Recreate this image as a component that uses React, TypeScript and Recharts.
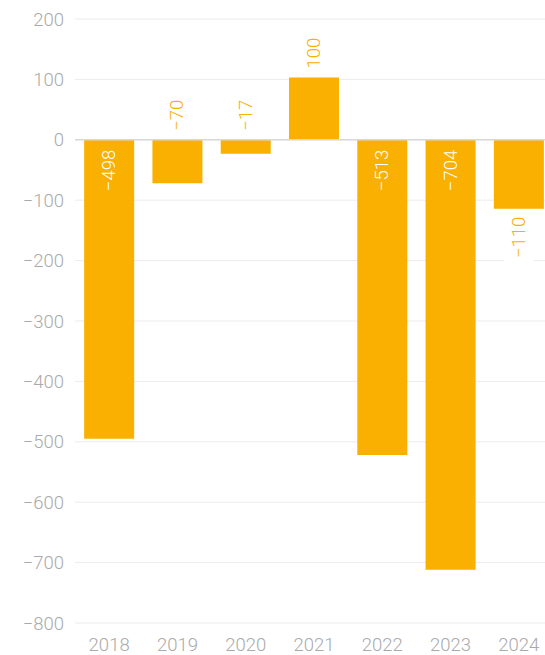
import { BarChart, Bar, XAxis, YAxis, CartesianGrid, ReferenceLine, LabelList } from "recharts";

const years = ["2018", "2019", "2020", "2021", "2022", "2023", "2024"];
const values = [-495, -72, -23, 103, -522, -712, -114];
const valueLabels = ["−498", "−70", "−17", "100", "−513", "−704", "−110"];
const yTicks = [200, 100, 0, -100, -200, -300, -400, -500, -600, -700, -800];

const AMBER = "#f9b000";
const GREY = "#aaaaaa";
const FONT = "Roboto, sans-serif";

const data = years.map((year, i) => ({ year, value: values[i], label: valueLabels[i] }));

const fmt = (v: number) => (v < 0 ? `−${Math.abs(v)}` : `${v}`);

function BarLabel(props: any) {
  const { x, y, width, height, index } = props;
  const v = values[index];
  const text = valueLabels[index];
  const top = Math.min(y, y + height);
  const bottom = Math.max(y, y + height);
  const len = bottom - top;
  const cx = x + width / 2;
  const zero = v < 0 ? top : bottom;
  const textLen = text.length * 10.5;
  const common = { fontFamily: FONT, fontSize: 18.5, fontWeight: 300, dominantBaseline: "central" as const };

  if (len >= 100) {
    const ty = zero + 10;
    return (
      <text x={cx} y={ty} transform={`rotate(-90, ${cx}, ${ty})`} textAnchor="end" fill="#fff" {...common}>
        {text}
      </text>
    );
  }
  if (v >= 0 || len < 60) {
    const ty = (v >= 0 ? top : zero) - 9;
    return (
      <text x={cx} y={ty} transform={`rotate(-90, ${cx}, ${ty})`} textAnchor="start" fill={AMBER} {...common}>
        {text}
      </text>
    );
  }
  const ty = bottom + 8;
  return (
    <g>
      <rect x={cx - 15} y={ty - 5} width={30} height={textLen + 10} fill="#fff" />
      <text x={cx} y={ty} transform={`rotate(-90, ${cx}, ${ty})`} textAnchor="end" fill={AMBER} {...common}>
        {text}
      </text>
    </g>
  );
}

export default function App() {
  return (
    <div style={{ position: "absolute", left: 0, top: 0, width: 545, height: 655, overflow: "hidden", background: "#fff" }}>
      <BarChart
        width={554}
        height={655}
        data={data}
        margin={{ top: 19, right: 1, bottom: 2, left: 0 }}
        barCategoryGap="13.4%"
      >
        <CartesianGrid vertical={false} stroke="#ececec" />
        <XAxis
          dataKey="year"
          axisLine={false}
          tickLine={false}
          tickMargin={9}
          height={30}
          tick={{ fill: GREY, fontSize: 18.5, fontFamily: FONT, fontWeight: 300 }}
        />
        <YAxis
          width={75}
          domain={[-800, 200]}
          ticks={yTicks}
          axisLine={false}
          tickLine={false}
          tickFormatter={fmt}
          tick={{ fill: GREY, fontSize: 18.5, fontFamily: FONT, fontWeight: 300, dx: -3 }}
        />
        <ReferenceLine y={0} stroke="#d8d8d8" strokeWidth={1.5} />
        <Bar dataKey="value" fill={AMBER} isAnimationActive={false}>
          <LabelList dataKey="label" content={BarLabel} />
        </Bar>
      </BarChart>
    </div>
  );
}
